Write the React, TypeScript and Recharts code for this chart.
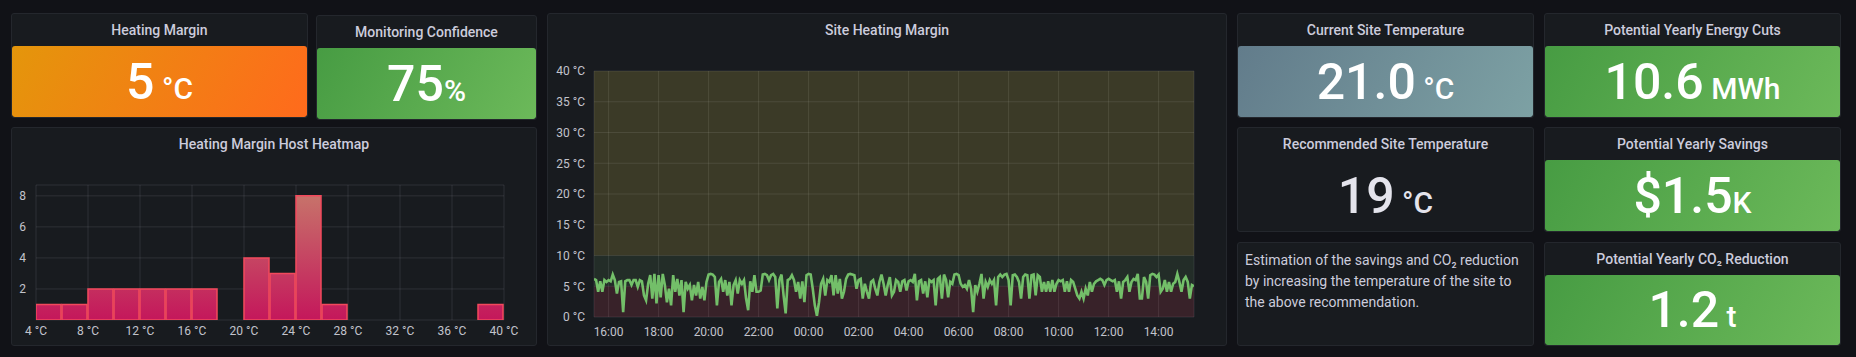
import React from 'react';
import { BarChart, Bar, LineChart, Line, XAxis, YAxis, CartesianGrid, ReferenceArea } from 'recharts';

// heatmap histogram: 2 °C bins
const heatmapBinStarts = [4, 6, 8, 10, 12, 14, 16, 18, 20, 22, 24, 26, 28, 30, 32, 34, 36, 38];
const heatmapCounts = [1, 1, 2, 2, 2, 2, 2, 0, 4, 3, 8, 1, 0, 0, 0, 0, 0, 1];
const heatmapXTicks = [4, 8, 12, 16, 20, 24, 28, 32, 36, 40];
const heatmapYTicks = [2, 4, 6, 8];

// site heating margin, one sample every 5 minutes from 15:25
const marginStartMinute = 925;
const marginStepMinutes = 5;
const marginValues = [
  // 15:25 - 21:25
  6.2, 6.0, 4.1, 5.8, 4.1, 6.0, 5.7, 6.0, 5.8, 6.9, 6.0, 3.8, 5.7, 5.8, 0.8, 5.8, 6.0, 6.0, 5.2, 6.0, 6.0, 4.9, 6.0, 5.8,
  3.5, 2.7, 5.4, 6.8, 3.0, 7.0, 2.2, 6.8, 3.2, 7.0, 5.2, 2.4, 4.6, 1.9, 6.8, 4.1, 6.2, 3.5, 6.0, 0.8, 5.7, 4.6, 5.2, 2.7,
  5.2, 3.5, 5.7, 3.0, 4.9, 2.7, 5.7, 6.9, 7.0, 6.9, 6.5, 1.9, 5.7, 6.2, 4.1, 6.0, 3.5, 5.7, 1.9, 5.2, 6.0, 3.8, 6.0, 5.4,
  // 21:25 - 03:25
  6.0, 3.0, 1.1, 5.8, 4.1, 6.8, 4.1, 4.1, 4.3, 6.9, 7.0, 6.8, 6.0, 6.8, 7.0, 6.5, 1.4, 6.0, 6.9, 3.5, 0.6, 6.0, 6.2, 6.8,
  6.0, 4.1, 5.7, 3.0, 5.8, 2.4, 6.8, 7.0, 6.9, 4.6, 1.9, 0.2, 2.4, 5.4, 6.2, 3.5, 6.0, 5.7, 6.8, 3.5, 6.8, 3.8, 6.2, 3.0,
  4.1, 6.2, 6.9, 7.0, 6.9, 6.8, 4.6, 6.0, 6.2, 3.0, 5.4, 4.1, 3.0, 5.7, 6.0, 4.6, 3.5, 5.7, 6.9, 5.4, 3.5, 5.2, 6.5, 3.5,
  // 03:25 - 09:25
  4.1, 6.0, 5.7, 4.1, 5.8, 6.0, 4.3, 5.8, 6.0, 5.7, 7.0, 2.7, 5.8, 6.0, 3.8, 5.8, 3.2, 6.0, 5.7, 6.0, 1.9, 6.2, 6.5, 3.0,
  6.9, 6.0, 3.2, 5.7, 5.4, 6.9, 7.0, 6.8, 5.4, 4.9, 5.2, 4.6, 6.0, 4.6, 0.8, 5.2, 4.1, 5.4, 7.0, 3.0, 5.7, 4.9, 6.0, 5.4,
  6.0, 1.9, 6.5, 6.9, 6.5, 6.9, 7.0, 6.0, 1.9, 6.8, 6.9, 6.5, 5.7, 3.0, 6.5, 6.9, 6.8, 3.0, 6.8, 6.9, 3.5, 6.8, 6.5, 4.1,
  // 09:25 - 15:25
  5.7, 4.1, 5.8, 4.1, 6.0, 4.1, 5.4, 6.0, 5.8, 6.0, 4.1, 5.8, 4.1, 6.0, 5.7, 4.6, 3.5, 3.0, 4.1, 3.0, 4.6, 3.5, 5.7, 4.1,
  5.4, 5.8, 6.0, 6.2, 6.0, 5.2, 6.0, 6.2, 6.0, 5.8, 6.0, 4.1, 5.8, 3.0, 5.7, 6.0, 6.5, 4.1, 5.7, 6.2, 6.0, 7.0, 3.0, 3.0,
  6.5, 5.7, 3.0, 6.8, 7.0, 6.9, 6.5, 6.9, 4.1, 4.6, 6.0, 4.1, 5.7, 4.1, 5.4, 5.7, 7.0, 5.7, 4.1, 6.0, 6.5, 5.7, 3.0, 5.2,
  5.0,
];
const marginTimeTicks = [960, 1080, 1200, 1320, 1440, 1560, 1680, 1800, 1920, 2040, 2160, 2280];
const marginYTicks = [0, 5, 10, 15, 20, 25, 30, 35, 40];
const thresholdSteps = [0, 5, 10, 40];
// translucent threshold fills so the grid shows through
const thresholdColors = ['rgba(184,67,86,0.2)', 'rgba(79,122,81,0.2)', 'rgba(199,187,76,0.2)'];

const heatmapData = heatmapBinStarts.map((s, i) => ({ mid: s + 1, count: heatmapCounts[i] }));
const marginData = marginValues.map((v, i) => ({ t: marginStartMinute + i * marginStepMinutes, v }));

const FONT = 'Roboto, "Noto Sans", sans-serif';
const tickStyle = { fill: '#c2c3cc', fontSize: 12, fontFamily: FONT };
const gridStroke = 'rgba(204,204,220,0.12)';

const hourLabel = (m: number) => `${String(Math.floor(m / 60) % 24).padStart(2, '0')}:00`;

const Panel = ({ x, y, w, h, title, children }: any) => (
  <div
    style={{
      position: 'absolute', left: x, top: y, width: w, height: h, boxSizing: 'border-box',
      background: '#181b1f', border: '1px solid #24272d', borderRadius: 3, overflow: 'hidden',
    }}
  >
    {title && (
      <div style={{ height: 32, lineHeight: '32px', textAlign: 'center', fontSize: 14, fontWeight: 500, color: '#ccccdc' }}>
        {title}
      </div>
    )}
    {children}
  </div>
);

const StatValue = ({ value, unit, bg, color = '#ffffff' }: any) => (
  <div
    style={{
      position: 'absolute', left: 0, right: 0, top: 32, bottom: 0, background: bg, borderRadius: 3,
      display: 'flex', alignItems: 'center', justifyContent: 'center', color,
    }}
  >
    <div style={{ display: 'flex', alignItems: 'baseline', lineHeight: 1, fontWeight: 500, whiteSpace: 'pre' }}>
      <span style={{ fontSize: 50 }}>{value}</span>
      <span style={{ fontSize: 30 }}>{unit}</span>
    </div>
  </div>
);

const orange = 'linear-gradient(120deg, #e4960b, #ff6a1c)';
const green = 'linear-gradient(120deg, #479c43, #6cb95a)';
const slate = 'linear-gradient(120deg, #627c8b, #7da1a4)';

export default function App() {
  return (
    <div style={{ position: 'fixed', left: 0, top: 0, width: 1856, height: 357, background: '#111217', fontFamily: FONT, overflow: 'hidden' }}>
      <Panel x={11} y={13} w={297} h={105} title="Heating Margin">
        <StatValue value="5" unit=" °C" bg={orange} />
      </Panel>
      <Panel x={316} y={15} w={221} h={105} title="Monitoring Confidence">
        <StatValue value="75" unit="%" bg={green} />
      </Panel>
      <Panel x={11} y={127} w={526} h={219} title="Heating Margin Host Heatmap" />
      <Panel x={547} y={13} w={680} h={333} title="Site Heating Margin" />

      <Panel x={1237} y={13} w={297} h={105} title="Current Site Temperature">
        <StatValue value="21.0" unit=" °C" bg={slate} />
      </Panel>
      <Panel x={1544} y={13} w={297} h={105} title="Potential Yearly Energy Cuts">
        <StatValue value="10.6" unit=" MWh" bg={green} />
      </Panel>
      <Panel x={1237} y={127} w={297} h={105} title="Recommended Site Temperature">
        <StatValue value="19" unit=" °C" bg="transparent" color="#e4e4ec" />
      </Panel>
      <Panel x={1544} y={127} w={297} h={105} title="Potential Yearly Savings">
        <StatValue value="$1.5" unit="K" bg={green} />
      </Panel>
      <Panel x={1237} y={242} w={297} h={104}>
        <div style={{ padding: '7px 7px', fontSize: 14, lineHeight: '21px', color: '#ccccdc' }}>
          Estimation of the savings and CO₂ reduction by increasing the temperature of the site to the above recommendation.
        </div>
      </Panel>
      <Panel x={1544} y={242} w={297} h={104} title="Potential Yearly CO₂ Reduction">
        <StatValue value="1.2" unit=" t" bg={green} />
      </Panel>

      <div style={{ position: 'absolute', left: 11, top: 160 }}>
        <BarChart width={526} height={186} data={heatmapData} margin={{ top: 25, right: 33, left: 0, bottom: 0 }}>
          <defs>
            <linearGradient id="heatFill" gradientUnits="userSpaceOnUse" x1="0" y1="160" x2="0" y2="36">
              <stop offset="0" stopColor="#c4175b" />
              <stop offset="1" stopColor="#c7726a" />
            </linearGradient>
          </defs>
          <CartesianGrid stroke={gridStroke} />
          <XAxis
            dataKey="mid" type="number" domain={[4, 40]} ticks={heatmapXTicks} allowDataOverflow
            tickFormatter={(v: number) => `${v} °C`} axisLine={false} tickLine={false} tickSize={0} tickMargin={6}
            height={26} tick={tickStyle} interval={0} padding={{ left: 0, right: 0 }}
          />
          <YAxis
            type="number" domain={[0, 8.7]} ticks={heatmapYTicks} allowDataOverflow axisLine={false} tickLine={false}
            tickSize={0} tickMargin={10} width={25} tick={tickStyle}
          />
          <Bar dataKey="count" barSize={25} fill="url(#heatFill)" stroke="#f2495c" strokeWidth={1.5} isAnimationActive={false} />
        </BarChart>
      </div>

      <div style={{ position: 'absolute', left: 547, top: 50 }}>
        <LineChart width={680} height={296} data={marginData} margin={{ top: 21, right: 33, left: 0, bottom: 0 }}>
          {thresholdColors.map((c, i) => (
            <ReferenceArea key={i} y1={thresholdSteps[i]} y2={thresholdSteps[i + 1]} fill={c} fillOpacity={1} stroke="none" />
          ))}
          <CartesianGrid stroke={gridStroke} />
          <XAxis
            dataKey="t" type="number" domain={[marginStartMinute, marginStartMinute + 1440]} ticks={marginTimeTicks}
            allowDataOverflow tickFormatter={hourLabel} axisLine={false} tickLine={false} tickSize={0} tickMargin={10}
            height={29} tick={tickStyle} interval={0}
          />
          <YAxis
            type="number" domain={[0, 40]} ticks={marginYTicks} allowDataOverflow axisLine={false} tickLine={false}
            tickSize={0} tickMargin={9} width={47} tick={tickStyle} tickFormatter={(v: number) => `${v} °C`}
          />
          <Line type="linear" dataKey="v" stroke="#73bf69" strokeWidth={2.6} dot={false} isAnimationActive={false} />
        </LineChart>
      </div>
    </div>
  );
}
